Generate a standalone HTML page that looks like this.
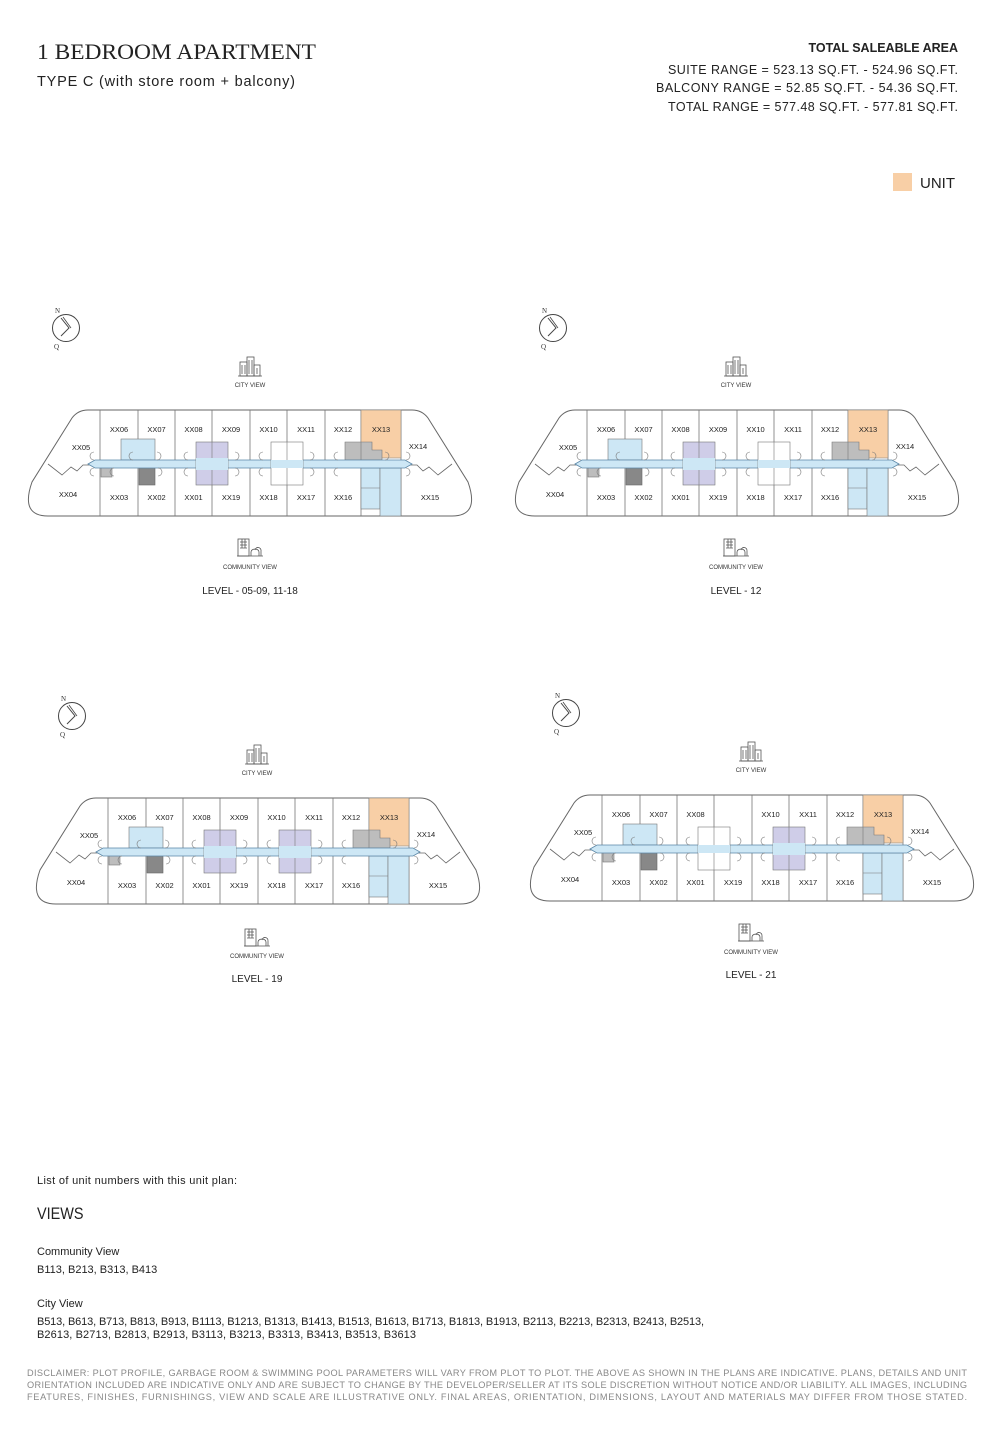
<!DOCTYPE html>
<html><head><meta charset="utf-8"><style>
html,body{margin:0;padding:0;background:#fff;}
svg{display:block;font-family:"Liberation Sans",sans-serif;}
.l{font-size:7.5px;fill:#222;text-anchor:middle;}
.s{font-size:6px;fill:#333;text-anchor:middle;}
.lv{font-size:10px;fill:#222;text-anchor:middle;}
</style></head><body>
<svg width="1000" height="1441" viewBox="0 0 1000 1441">
<defs>
<g id="base">
<path d="M72,0 L372,0 L384,0 Q394,0 400,8 L440,72 Q452,106 424,106 L20,106 Q-8,106 4,72 L44,8 Q50,0 60,0 Z" fill="#fff" stroke="#666" stroke-width="1"/>
<g stroke="#777" stroke-width="0.8">
<line x1="72" y1="0" x2="72" y2="106"/><line x1="110" y1="0" x2="110" y2="106"/><line x1="147" y1="0" x2="147" y2="106"/><line x1="184" y1="0" x2="184" y2="106"/><line x1="222" y1="0" x2="222" y2="106"/><line x1="259" y1="0" x2="259" y2="106"/><line x1="297" y1="0" x2="297" y2="106"/><line x1="333" y1="0" x2="333" y2="106"/><line x1="373" y1="0" x2="373" y2="106"/>
</g>
<polyline points="20,54 34,65 43,57 49,61 55,55 64,55" fill="none" stroke="#666" stroke-width="0.8"/>
<polyline points="424,54 410,65 401,57 395,61 389,55 380,55" fill="none" stroke="#666" stroke-width="0.8"/>
<rect x="333" y="0" width="40" height="48" fill="#f8cfa6" stroke="#888" stroke-width="0.6"/>
<path d="M317,32 L344,32 L344,40 L354,40 L354,50 L317,50 Z" fill="#bdbdbd" stroke="#777" stroke-width="0.6"/>
<line x1="333" y1="32" x2="333" y2="50" stroke="#777" stroke-width="0.6"/>
<rect x="333" y="58" width="19" height="41" fill="#cde7f5" stroke="#777" stroke-width="0.6"/>
<line x1="333" y1="78" x2="352" y2="78" stroke="#777" stroke-width="0.6"/>
<rect x="352" y="58" width="21" height="48" fill="#cde7f5" stroke="#777" stroke-width="0.6"/>
<rect x="93" y="29" width="34" height="21" fill="#cde7f5" stroke="#777" stroke-width="0.6"/>
<rect x="73" y="57" width="11" height="10" fill="#bdbdbd" stroke="#777" stroke-width="0.6"/>
<rect x="111" y="57" width="16" height="18" fill="#888" stroke="#666" stroke-width="0.6"/>
<polygon points="60,54 67,50 377,50 384,54 377,58 67,58" fill="#cde7f5" stroke="#5a87a8" stroke-width="0.8"/>
<g fill="none" stroke="#777" stroke-width="0.6">
<path d="M66,50 a4,4 0 0 1 0,-8"/><path d="M105,50 a4,4 0 0 1 0,-8"/><path d="M129,50 a4,4 0 0 0 0,-8"/><path d="M160,50 a4,4 0 0 1 0,-8"/><path d="M207,50 a4,4 0 0 0 0,-8"/><path d="M235,50 a4,4 0 0 1 0,-8"/><path d="M282,50 a4,4 0 0 0 0,-8"/><path d="M310,50 a4,4 0 0 1 0,-8"/><path d="M357,50 a4,4 0 0 0 0,-8"/><path d="M378,50 a4,4 0 0 0 0,-8"/>
<path d="M66,58 a4,4 0 0 0 0,8"/><path d="M86,58 a4,4 0 0 0 0,8"/><path d="M130,58 a4,4 0 0 1 0,8"/><path d="M160,58 a4,4 0 0 0 0,8"/><path d="M207,58 a4,4 0 0 1 0,8"/><path d="M235,58 a4,4 0 0 0 0,8"/><path d="M282,58 a4,4 0 0 1 0,8"/><path d="M310,58 a4,4 0 0 0 0,8"/><path d="M378,58 a4,4 0 0 1 0,8"/>
</g>
</g>
<g id="purple"><rect x="-16" y="32" width="32" height="43" fill="#cfcde8" stroke="#777" stroke-width="0.6"/><line x1="0" y1="32" x2="0" y2="75" stroke="#777" stroke-width="0.6"/><rect x="-16" y="48" width="32" height="12" fill="#cde7f5"/></g>
<g id="white"><rect x="-16" y="32" width="32" height="43" fill="#fff" stroke="#777" stroke-width="0.6"/><line x1="0" y1="32" x2="0" y2="75" stroke="#777" stroke-width="0.6"/><rect x="-16" y="50" width="32" height="8" fill="#cde7f5"/></g>
<g id="city" fill="none" stroke="#555" stroke-width="0.8"><rect x="-10" y="-6" width="7" height="14"/><rect x="-3" y="-11" width="7" height="19"/><rect x="4" y="-3" width="6" height="11"/><path d="M-8,-3v9M-5,-3v9M-1,-8v14M2,-8v14M7,0v6"/><line x1="-12" y1="8" x2="12" y2="8"/></g>
<g id="comm" fill="none" stroke="#555" stroke-width="0.8"><rect x="-12" y="-9" width="11" height="17"/><path d="M-10,-6h7M-10,-3h7M-10,0h7M-8,-9v9M-5,-9v9"/><path d="M1,8 v-4 a4,3 0 0 1 8,0 v4 M5,2 a3,3 0 0 1 6,1 v5"/><line x1="-13" y1="8" x2="13" y2="8"/></g>
<g id="comp"><circle cx="0" cy="0" r="13.5" fill="none" stroke="#444" stroke-width="1"/><path d="M-5,-10 L3,0 L-5,8" fill="none" stroke="#444" stroke-width="1"/><path d="M-3,-11 L5,0" fill="none" stroke="#444" stroke-width="0.8"/><text x="-11" y="-15" style="font-family:'Liberation Serif',serif;font-size:7px" fill="#333">N</text><text x="-12" y="21" style="font-family:'Liberation Serif',serif;font-size:7px" fill="#333">Q</text></g>
</defs>

<text x="37" y="59" style="font-family:'Liberation Serif',serif;font-size:22px" fill="#222" textLength="279" lengthAdjust="spacingAndGlyphs">1 BEDROOM APARTMENT</text>
<text x="37" y="86" font-size="14.5" fill="#222" textLength="258">TYPE C (with store room + balcony)</text>
<g font-size="12.5" fill="#222" text-anchor="end">
<text x="958" y="52" font-weight="bold">TOTAL SALEABLE AREA</text>
<text x="958" y="74" textLength="290">SUITE RANGE = 523.13 SQ.FT. - 524.96 SQ.FT.</text>
<text x="958" y="92" textLength="302">BALCONY RANGE = 52.85 SQ.FT. - 54.36 SQ.FT.</text>
<text x="958" y="111" textLength="290">TOTAL RANGE = 577.48 SQ.FT. - 577.81 SQ.FT.</text>
</g>
<rect x="893" y="173" width="19" height="18" fill="#f8cfa6"/>
<text x="920" y="188" font-size="15" fill="#222">UNIT</text>

<g transform="translate(28,410)">
<use href="#comp" x="38" y="-82"/>
<use href="#city" x="222" y="-42"/><text class="s" x="222" y="-23">CITY VIEW</text>
<use href="#base"/><use href="#purple" x="184"/><use href="#white" x="259"/>
<g class="l"><text x="91" y="22">XX06</text><text x="128.5" y="22">XX07</text><text x="165.5" y="22">XX08</text><text x="203" y="22">XX09</text><text x="240.5" y="22">XX10</text><text x="278" y="22">XX11</text><text x="315" y="22">XX12</text><text x="353" y="22">XX13</text>
<text x="91" y="90">XX03</text><text x="128.5" y="90">XX02</text><text x="165.5" y="90">XX01</text><text x="203" y="90">XX19</text><text x="240.5" y="90">XX18</text><text x="278" y="90">XX17</text><text x="315" y="90">XX16</text>
<text x="53" y="40">XX05</text><text x="40" y="87">XX04</text><text x="390" y="39">XX14</text><text x="402" y="90">XX15</text></g>
<use href="#comm" x="222" y="138"/><text class="s" x="222" y="159">COMMUNITY VIEW</text>
<text class="lv" x="222" y="184">LEVEL - 05-09, 11-18</text>
</g>

<g transform="translate(515,410)">
<use href="#comp" x="38" y="-82"/>
<use href="#city" x="221" y="-42"/><text class="s" x="221" y="-23">CITY VIEW</text>
<use href="#base"/><use href="#purple" x="184"/><use href="#white" x="259"/>
<g class="l"><text x="91" y="22">XX06</text><text x="128.5" y="22">XX07</text><text x="165.5" y="22">XX08</text><text x="203" y="22">XX09</text><text x="240.5" y="22">XX10</text><text x="278" y="22">XX11</text><text x="315" y="22">XX12</text><text x="353" y="22">XX13</text>
<text x="91" y="90">XX03</text><text x="128.5" y="90">XX02</text><text x="165.5" y="90">XX01</text><text x="203" y="90">XX19</text><text x="240.5" y="90">XX18</text><text x="278" y="90">XX17</text><text x="315" y="90">XX16</text>
<text x="53" y="40">XX05</text><text x="40" y="87">XX04</text><text x="390" y="39">XX14</text><text x="402" y="90">XX15</text></g>
<use href="#comm" x="221" y="138"/><text class="s" x="221" y="159">COMMUNITY VIEW</text>
<text class="lv" x="221" y="184">LEVEL - 12</text>
</g>

<g transform="translate(36,798)">
<use href="#comp" x="36" y="-82"/>
<use href="#city" x="221" y="-42"/><text class="s" x="221" y="-23">CITY VIEW</text>
<use href="#base"/><use href="#purple" x="184"/><use href="#purple" x="259"/>
<g class="l"><text x="91" y="22">XX06</text><text x="128.5" y="22">XX07</text><text x="165.5" y="22">XX08</text><text x="203" y="22">XX09</text><text x="240.5" y="22">XX10</text><text x="278" y="22">XX11</text><text x="315" y="22">XX12</text><text x="353" y="22">XX13</text>
<text x="91" y="90">XX03</text><text x="128.5" y="90">XX02</text><text x="165.5" y="90">XX01</text><text x="203" y="90">XX19</text><text x="240.5" y="90">XX18</text><text x="278" y="90">XX17</text><text x="315" y="90">XX16</text>
<text x="53" y="40">XX05</text><text x="40" y="87">XX04</text><text x="390" y="39">XX14</text><text x="402" y="90">XX15</text></g>
<use href="#comm" x="221" y="140"/><text class="s" x="221" y="160">COMMUNITY VIEW</text>
<text class="lv" x="221" y="184">LEVEL - 19</text>
</g>

<g transform="translate(530,795)">
<use href="#comp" x="36" y="-82"/>
<use href="#city" x="221" y="-42"/><text class="s" x="221" y="-23">CITY VIEW</text>
<use href="#base"/><use href="#white" x="184"/><use href="#purple" x="259"/>
<g class="l"><text x="91" y="22">XX06</text><text x="128.5" y="22">XX07</text><text x="165.5" y="22">XX08</text><text x="240.5" y="22">XX10</text><text x="278" y="22">XX11</text><text x="315" y="22">XX12</text><text x="353" y="22">XX13</text>
<text x="91" y="90">XX03</text><text x="128.5" y="90">XX02</text><text x="165.5" y="90">XX01</text><text x="203" y="90">XX19</text><text x="240.5" y="90">XX18</text><text x="278" y="90">XX17</text><text x="315" y="90">XX16</text>
<text x="53" y="40">XX05</text><text x="40" y="87">XX04</text><text x="390" y="39">XX14</text><text x="402" y="90">XX15</text></g>
<use href="#comm" x="221" y="138"/><text class="s" x="221" y="159">COMMUNITY VIEW</text>
<text class="lv" x="221" y="183">LEVEL - 21</text>
</g>

<g fill="#222">
<text x="37" y="1184" font-size="11" textLength="200">List of unit numbers with this unit plan:</text>
<text x="37" y="1219" font-size="17" transform="translate(37,1219) scale(0.85,1) translate(-37,-1219)">VIEWS</text>
<text x="37" y="1255" font-size="11">Community View</text>
<text x="37" y="1273" font-size="11">B113, B213, B313, B413</text>
<text x="37" y="1307" font-size="11">City View</text>
<text x="37" y="1325" font-size="11" textLength="667">B513, B613, B713, B813, B913, B1113, B1213, B1313, B1413, B1513, B1613, B1713, B1813, B1913, B2113, B2213, B2313, B2413, B2513,</text>
<text x="37" y="1338" font-size="11" textLength="379">B2613, B2713, B2813, B2913, B3113, B3213, B3313, B3413, B3513, B3613</text>
</g>
<g fill="#888" font-size="9.2">
<text x="27" y="1376" textLength="940">DISCLAIMER: PLOT PROFILE, GARBAGE ROOM &amp; SWIMMING POOL PARAMETERS WILL VARY FROM PLOT TO PLOT. THE ABOVE AS SHOWN IN THE PLANS ARE INDICATIVE. PLANS, DETAILS AND UNIT</text>
<text x="27" y="1388" textLength="940">ORIENTATION INCLUDED ARE INDICATIVE ONLY AND ARE SUBJECT TO CHANGE BY THE DEVELOPER/SELLER AT ITS SOLE DISCRETION WITHOUT NOTICE AND/OR LIABILITY. ALL IMAGES, INCLUDING</text>
<text x="27" y="1400" textLength="940">FEATURES, FINISHES, FURNISHINGS, VIEW AND SCALE ARE ILLUSTRATIVE ONLY. FINAL AREAS, ORIENTATION, DIMENSIONS, LAYOUT AND MATERIALS MAY DIFFER FROM THOSE STATED.</text>
</g>
</svg>
</body></html>
